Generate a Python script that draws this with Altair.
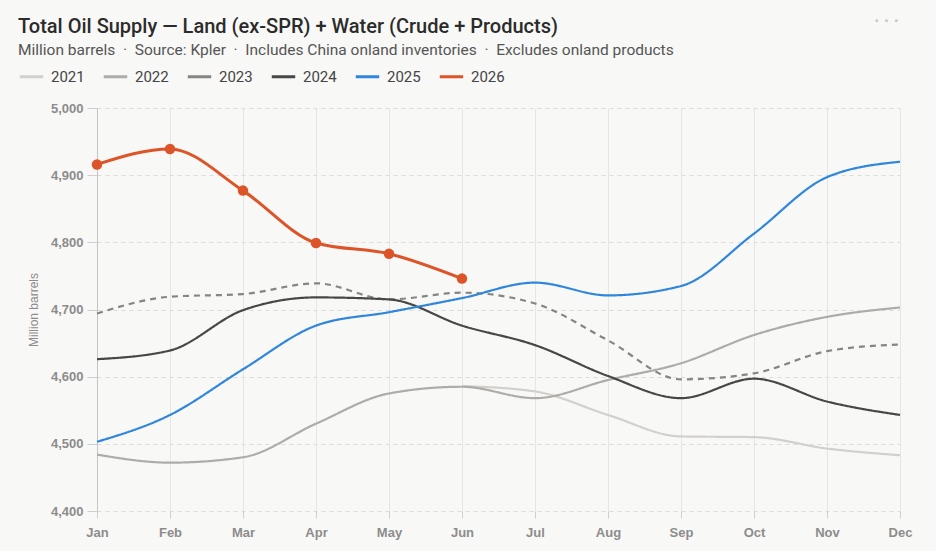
import altair as alt
import pandas as pd

months = ["Jan", "Feb", "Mar", "Apr", "May", "Jun", "Jul", "Aug", "Sep", "Oct", "Nov", "Dec"]
years = ["2021", "2022", "2023", "2024", "2025", "2026"]

s2021 = [None, None, None, None, None, 4586, 4578, 4543, 4511, 4510, 4493, 4483]
s2022 = [4484, 4472, 4480, 4530, 4575, 4585, 4568, 4595, 4620, 4662, 4689, 4703]
s2023 = [4694, 4719, 4723, 4739, 4715, 4725, 4709, 4654, 4596, 4605, 4638, 4648]
s2024 = [4626, 4639, 4699, 4718, 4715, 4676, 4647, 4601, 4568, 4597, 4563, 4543]
s2025 = [4503, 4543, 4611, 4676, 4696, 4717, 4740, 4721, 4735, 4813, 4897, 4920]
s2026 = [4916, 4939, 4877, 4799, 4783, 4746, None, None, None, None, None, None]

colors = ["#d2d0cd", "#aeaca9", "#858585", "#474747", "#2f86dc", "#dc5428"]
series = [s2021, s2022, s2023, s2024, s2025, s2026]

SEP = "\u00a0\u00a0·\u00a0\u00a0"
title_text = "Total Oil Supply — Land (ex-SPR) + Water (Crude + Products)"
subtitle_parts = ["Million barrels", "Source: Kpler", "Includes China onland inventories",
                  "Excludes onland products"]
subtitle_text = SEP.join(subtitle_parts)

rows = []
for y, vals in zip(years, series):
    for m, v in zip(months, vals):
        if v is not None:
            rows.append({"month": m, "year": y, "value": v,
                         "dash": "dashed" if y == "2023" else "solid"})
df = pd.DataFrame(rows)

FONT = "Roboto"

x_enc = alt.X("month:O", sort=months, scale=alt.Scale(type="point", padding=0),
              axis=alt.Axis(title=None, labelAngle=0, labelColor="#8c8c8c", labelFontSize=13,
                            labelFont="Liberation Sans", labelFontWeight="bold",
                            tickColor="#d0d0d0", tickSize=7, labelPadding=8,
                            domain=False, grid=True, gridColor="#e6e6e4", gridDash=[]))
y_enc = alt.Y("value:Q", scale=alt.Scale(domain=[4400, 5000], nice=False, zero=False),
              axis=alt.Axis(title="Million barrels", titleColor="#8c8c8c", titleFontSize=12,
                            titleFontWeight="normal", titleFont="Liberation Sans", titlePadding=10,
                            values=[4400, 4500, 4600, 4700, 4800, 4900, 5000], format=",.0f",
                            labelColor="#8c8c8c", labelFontSize=13, labelFont="Liberation Sans",
                            labelFontWeight="bold", tickColor="#cfcfcf", tickSize=10, labelPadding=4,
                            domain=True, domainColor="#c4c4c4", grid=True, gridColor="#dcdcda",
                            gridDash=[4, 4]))

color_enc = alt.Color("year:N", scale=alt.Scale(domain=years, range=colors),
                      legend=alt.Legend(title=None, orient="none", direction="horizontal",
                                        legendX=-79, legendY=-45, symbolType="stroke",
                                        symbolStrokeWidth=3, symbolSize=550, labelFontSize=15,
                                        labelColor="#444444", labelFont=FONT,
                                        columnPadding=12, symbolOffset=0, labelOffset=6))

base = alt.Chart(df)

lines = base.transform_filter("datum.year != '2026'").mark_line(
    interpolate="monotone", strokeWidth=2.2).encode(
    x=x_enc, y=y_enc, color=color_enc,
    strokeDash=alt.StrokeDash("dash:N", scale=alt.Scale(domain=["solid", "dashed"],
                                                         range=[[1, 0], [6, 5]]), legend=None),
)

line26 = base.transform_filter("datum.year == '2026'").mark_line(
    interpolate="monotone", strokeWidth=3).encode(x=x_enc, y=y_enc, color=color_enc)
pts26 = base.transform_filter("datum.year == '2026'").mark_circle(
    size=110, opacity=1).encode(x=x_enc, y=y_enc, color=alt.Color("year:N",
                                scale=alt.Scale(domain=years, range=colors), legend=None))

title_mark = alt.Chart(pd.DataFrame({"t": [title_text]})).mark_text(
    font=FONT, fontSize=20, fontWeight=500, color="#2b2b2b", align="left",
    baseline="alphabetic").encode(text="t:N", x=alt.value(-79), y=alt.value(-75))
subtitle_mark = alt.Chart(pd.DataFrame({"t": [subtitle_text]})).mark_text(
    font=FONT, fontSize=15.5, color="#555555", align="left",
    baseline="alphabetic").encode(text="t:N", x=alt.value(-79), y=alt.value(-53))
dots = alt.Chart(pd.DataFrame({"t": ["· · ·"]})).mark_text(
    fontSize=16, color="#c4c4c4", align="center", fontWeight="bold").encode(
    text="t:N", x=alt.value(790), y=alt.value(-87))

chart = alt.layer(lines, line26, pts26, title_mark, subtitle_mark, dots).properties(
    width=803, height=403,
    background="#f8f8f6",
    padding={"left": 97, "top": 108, "right": 36, "bottom": 40},
    autosize=alt.AutoSizeParams(type="none"),
).configure_view(stroke=None)

chart.save("out.html", embed_options={"renderer": "svg", "actions": False})
